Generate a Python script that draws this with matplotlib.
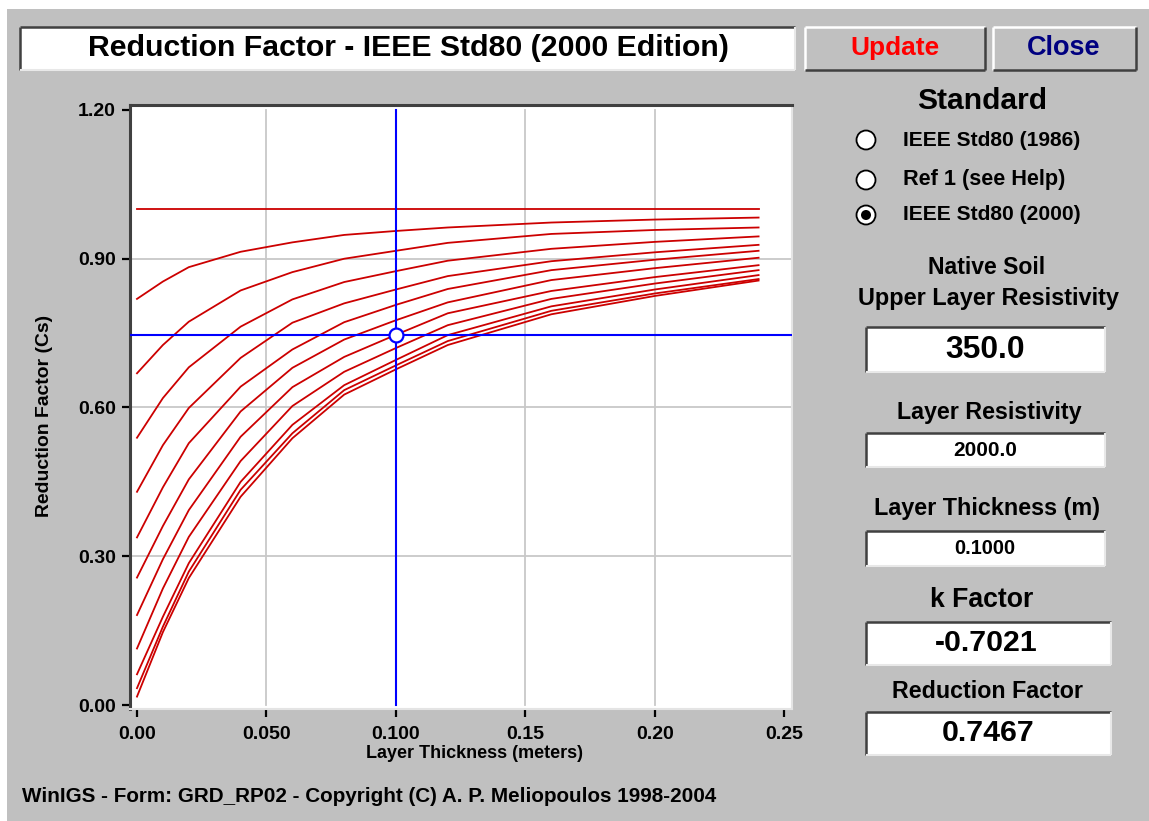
import matplotlib
matplotlib.use("Agg")
import matplotlib.pyplot as plt
from matplotlib.patches import Rectangle, Circle

plt.rcParams['font.family'] = ['Liberation Sans', 'DejaVu Sans']
plt.rcParams['font.weight'] = 'bold'

# ---------------- data ----------------
thickness = [0.0, 0.01, 0.02, 0.04, 0.06, 0.08, 0.10, 0.12, 0.16, 0.20, 0.24]
cs_01 = [1.000, 1.000, 1.000, 1.000, 1.000, 1.000, 1.000, 1.000, 1.000, 1.000, 1.000]
cs_02 = [0.819, 0.854, 0.883, 0.914, 0.933, 0.948, 0.956, 0.963, 0.973, 0.979, 0.983]
cs_03 = [0.669, 0.726, 0.773, 0.836, 0.873, 0.900, 0.916, 0.932, 0.950, 0.958, 0.963]
cs_04 = [0.539, 0.619, 0.681, 0.763, 0.818, 0.853, 0.875, 0.896, 0.920, 0.934, 0.945]
cs_05 = [0.430, 0.524, 0.599, 0.700, 0.771, 0.810, 0.838, 0.865, 0.895, 0.913, 0.928]
cs_06 = [0.338, 0.439, 0.528, 0.642, 0.717, 0.772, 0.807, 0.839, 0.877, 0.898, 0.916]
cs_07 = [0.257, 0.361, 0.455, 0.592, 0.680, 0.737, 0.776, 0.812, 0.857, 0.881, 0.902]
cs_08 = [0.1815, 0.294, 0.393, 0.541, 0.641, 0.702, 0.7467, 0.790, 0.835, 0.863, 0.887]
cs_09 = [0.114, 0.235, 0.339, 0.492, 0.603, 0.672, 0.720, 0.766, 0.819, 0.850, 0.877]
cs_10 = [0.062, 0.178, 0.286, 0.450, 0.565, 0.645, 0.696, 0.746, 0.804, 0.838, 0.867]
cs_11 = [0.034, 0.158, 0.269, 0.434, 0.548, 0.635, 0.685, 0.734, 0.795, 0.830, 0.859]
cs_12 = [0.017, 0.147, 0.256, 0.420, 0.538, 0.626, 0.677, 0.726, 0.788, 0.825, 0.856]
curves = [cs_01, cs_02, cs_03, cs_04, cs_05, cs_06, cs_07, cs_08, cs_09, cs_10, cs_11, cs_12]

sel_thickness = 0.10
sel_cs = 0.7467

x_ticks = [0.0, 0.05, 0.10, 0.15, 0.20, 0.25]
x_tick_labels = ["0.00", "0.050", "0.100", "0.15", "0.20", "0.25"]
y_ticks = [0.0, 0.3, 0.6, 0.9, 1.2]
y_tick_labels = ["0.00", "0.30", "0.60", "0.90", "1.20"]

title_text = "Reduction Factor - IEEE Std80 (2000 Edition)"
radio_labels = ["IEEE Std80 (1986)", "Ref 1 (see Help)", "IEEE Std80 (2000)"]
radio_selected = 2

# ---------------- figure ----------------
W, H = 1149, 821
fig = plt.figure(figsize=(W / 100, H / 100), dpi=100, facecolor='white')
renderer = fig.canvas.get_renderer()

bg = fig.add_axes([0, 0, 1, 1])
bg.set_xlim(0, W)
bg.set_ylim(H, 0)
bg.axis('off')
GRAY = '#C0C0C0'
DARK = '#404040'
bg.add_patch(Rectangle((7, 9), W - 7, H - 9, facecolor=GRAY, edgecolor='none'))


def fit(t, w, vertical=False):
    bb = t.get_window_extent(renderer)
    cur = bb.height if vertical else bb.width
    if cur > 0:
        t.set_fontsize(t.get_fontsize() * w / cur)
    return t


def sunken(x0, y0, x1, y1):
    bg.add_patch(Rectangle((x0, y0), x1 - x0, y1 - y0, facecolor='white', edgecolor='none'))
    bg.plot([x0, x1], [y0, y0], color=DARK, lw=1.8, solid_capstyle='butt')
    bg.plot([x0, x0], [y0, y1], color=DARK, lw=1.8, solid_capstyle='butt')
    bg.plot([x0, x1], [y1, y1], color='#E8E8E8', lw=1.5, solid_capstyle='butt')
    bg.plot([x1, x1], [y0, y1], color='#E8E8E8', lw=1.5, solid_capstyle='butt')


def raised(x0, y0, x1, y1):
    bg.add_patch(Rectangle((x0, y0), x1 - x0, y1 - y0, facecolor=GRAY, edgecolor='none'))
    bg.plot([x0, x1], [y0, y0], color='white', lw=1.8, solid_capstyle='butt')
    bg.plot([x0, x0], [y0, y1], color='white', lw=1.8, solid_capstyle='butt')
    bg.plot([x0, x1], [y1, y1], color=DARK, lw=1.8, solid_capstyle='butt')
    bg.plot([x1, x1], [y0, y1], color=DARK, lw=1.8, solid_capstyle='butt')


def label(x, y, s, w, color='black', ha='center', rot=0, vertical=False):
    t = bg.text(x, y, s, ha=ha, va='center', fontsize=12, color=color,
                fontweight='bold', rotation=rot)
    fit(t, w, vertical)
    return t


# title bar and buttons
sunken(20, 27, 795, 70)
label(408, 48, title_text, 639)
raised(805, 27, 985, 70)
label(895, 48, "Update", 89, color='#FF0000')
raised(993, 27, 1136, 70)
label(1064, 48, "Close", 73, color='#000080')

# right panel
label(982, 101, "Standard", 130)
for i, (lab, yy) in enumerate(zip(radio_labels, [140, 180, 215])):
    bg.add_patch(Circle((866, yy), 9.5, facecolor='white', edgecolor='black', lw=1.3))
    if i == radio_selected:
        bg.add_patch(Circle((866, yy), 5.0, facecolor='black', edgecolor='none'))
    w = 162 if i == 1 else 177
    label(903, yy, lab, w, ha='left')

label(987, 268, "Native Soil", 117)
label(988, 298, "Upper Layer Resistivity", 260)
sunken(866, 327, 1105, 372)
label(985, 350, "350.0", 79)
label(989, 412, "Layer Resistivity", 184)
sunken(866, 433, 1105, 467)
label(985, 450, "2000.0", 63)
label(987, 509, "Layer Thickness (m)", 225)
sunken(866, 531, 1105, 566)
label(985, 548, "0.1000", 60)
label(982, 600, "k Factor", 103)
sunken(866, 622, 1111, 665)
label(986, 643, "-0.7021", 102)
label(988, 691, "Reduction Factor", 191)
sunken(866, 712, 1111, 755)
label(988, 733, "0.7467", 92)

# footer and axis labels
label(22, 797, "WinIGS - Form: GRD_RP02 - Copyright (C) A. P. Meliopoulos 1998-2004", 691, ha='left')
label(475, 753, "Layer Thickness (meters)", 216)
label(45, 416, "Reduction Factor (Cs)", 202, rot=90, vertical=True)

# ---------------- plot axes ----------------
L, R, T, B = 130, 792, 105, 709
ax = fig.add_axes([L / W, 1 - B / H, (R - L) / W, (B - T) / H])
ax.set_facecolor('white')
ax.set_xlim(-0.0027, 0.2529)
ax.set_ylim(-0.008, 1.21)

grid_c = '#C8C8C8'
for gx in [0.05, 0.15, 0.20]:
    ax.plot([gx, gx], [0.0, 1.2], color=grid_c, lw=1.3, zorder=1)
for gy in [0.3, 0.6, 0.9]:
    ax.axhline(gy, color=grid_c, lw=1.3, zorder=1)

for c in curves:
    ax.plot(thickness, c, color='#CC0000', lw=1.3, zorder=2)

ax.plot([sel_thickness, sel_thickness], [0.0, 1.2], color='#0000FF', lw=1.5, zorder=3)
ax.axhline(sel_cs, color='#0000FF', lw=1.5, zorder=3)
ax.plot([sel_thickness], [sel_cs], marker='o', ms=10, mfc='white', mec='#0000FF',
        mew=1.6, zorder=4)

ax.set_xticks(x_ticks)
ax.set_xticklabels(x_tick_labels)
ax.set_yticks(y_ticks)
ax.set_yticklabels(y_tick_labels)
ax.tick_params(axis='both', direction='out', length=6, width=1.6, colors='black',
               labelsize=14)
ax.tick_params(axis='x', pad=6)
ax.tick_params(axis='y', pad=4)
for lab in ax.get_xticklabels() + ax.get_yticklabels():
    lab.set_fontweight('bold')

ax.spines['left'].set_color(DARK)
ax.spines['left'].set_linewidth(2.2)
ax.spines['top'].set_color(DARK)
ax.spines['top'].set_linewidth(2.2)
ax.spines['right'].set_color('#E4E4E4')
ax.spines['right'].set_linewidth(1.5)
ax.spines['bottom'].set_color('#E4E4E4')
ax.spines['bottom'].set_linewidth(1.5)

fig.savefig("out.png", dpi=100, facecolor=fig.get_facecolor())
